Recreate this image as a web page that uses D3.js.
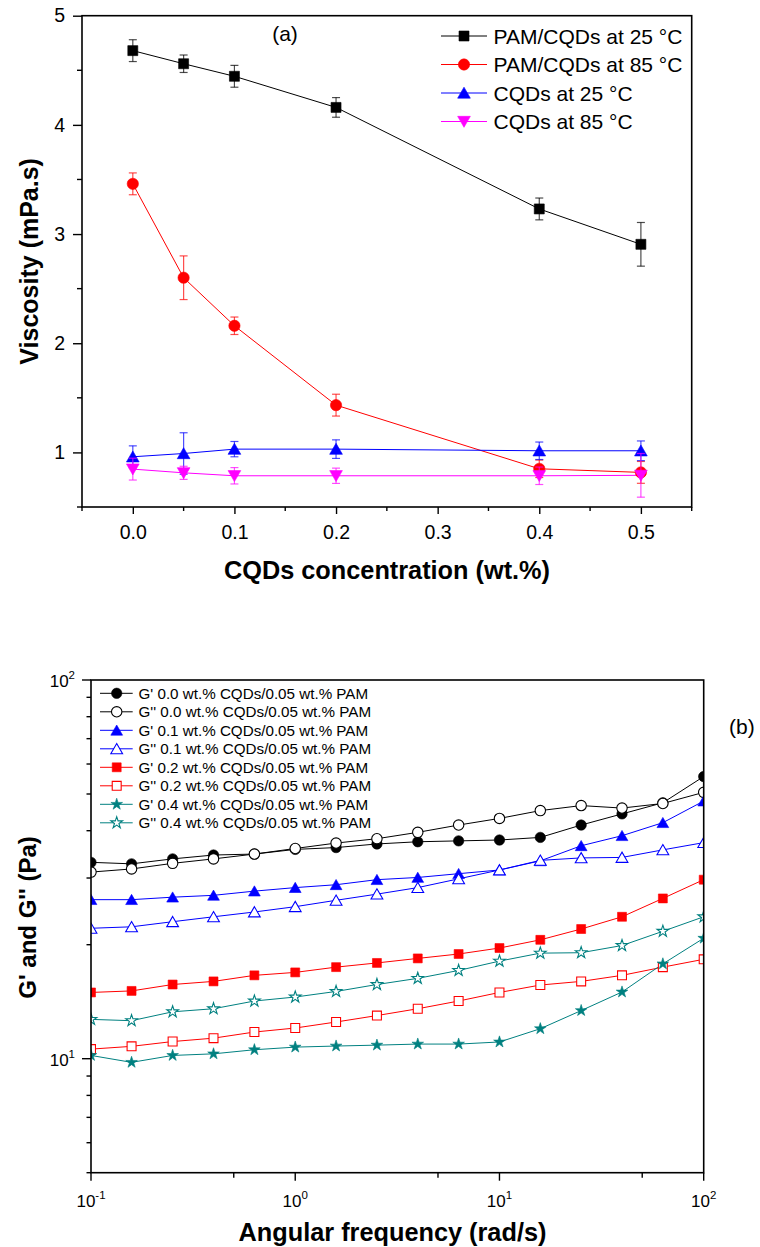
<!DOCTYPE html>
<html>
<head>
<meta charset="utf-8">
<script src="https://cdn.jsdelivr.net/npm/d3@7"></script>
<style>
  body { margin: 0; background: #fff; }
  svg { display: block; }
  text { font-family: "Liberation Sans", Arial, sans-serif; }
</style>
</head>
<body>
<svg id="chart" width="760" height="1247"></svg>
<script>
// ---------- Panel (a) data ----------
const concX = [0, 0.05, 0.1, 0.2, 0.4, 0.5];
const pam25 = [4.68, 4.56, 4.445, 4.16, 3.23, 2.906];
const pam25Err = [0.1, 0.08, 0.1, 0.09, 0.1, 0.2];
const pam85 = [3.46, 2.6, 2.16, 1.433, 0.85, 0.817];
const pam85Err = [0.1, 0.2, 0.08, 0.1, 0.08, 0.1];
const cqd25 = [0.96, 0.99, 1.03, 1.03, 1.015, 1.015];
const cqd25Err = [0.1, 0.19, 0.07, 0.085, 0.08, 0.09];
const cqd85 = [0.847, 0.813, 0.786, 0.786, 0.786, 0.79];
const cqd85Err = [0.1, 0.06, 0.075, 0.07, 0.08, 0.2];
const aNames = ["PAM/CQDs at 25 °C", "PAM/CQDs at 85 °C", "CQDs at 25 °C", "CQDs at 85 °C"];
const aXTicks = [0, 0.1, 0.2, 0.3, 0.4, 0.5];
const aYTicks = [1, 2, 3, 4, 5];

// ---------- Panel (b) data ----------
const freq = [0.1, 0.158, 0.251, 0.398, 0.631, 1, 1.585, 2.512, 3.981, 6.31, 10, 15.85, 25.12, 39.81, 63.1, 100];
const gp00 = [33.0, 32.7, 33.7, 34.5, 34.7, 35.7, 36.1, 36.9, 37.4, 37.6, 37.8, 38.4, 41.4, 44.3, 47.4, 55.6];
const gpp00 = [31.1, 31.7, 32.8, 33.7, 34.7, 35.9, 37.1, 38.1, 39.6, 41.4, 43.1, 45.2, 46.6, 45.9, 47.2, 50.5];
const gp01 = [26.3, 26.3, 26.7, 27.0, 27.7, 28.3, 28.8, 29.7, 30.1, 30.8, 31.5, 33.3, 36.5, 38.8, 42.0, 47.9];
const gpp01 = [22.1, 22.3, 23.0, 23.7, 24.4, 25.2, 26.2, 27.2, 28.3, 29.85, 31.5, 33.4, 33.9, 34.0, 35.6, 37.2];
const gp02 = [14.96, 15.1, 15.7, 16.0, 16.6, 16.9, 17.45, 17.9, 18.4, 18.9, 19.6, 20.6, 22.0, 23.7, 26.5, 29.7];
const gpp02 = [10.6, 10.78, 11.1, 11.33, 11.76, 12.05, 12.5, 13.0, 13.55, 14.2, 14.96, 15.65, 16.0, 16.6, 17.45, 18.3];
const gp04 = [10.2, 9.78, 10.2, 10.3, 10.56, 10.73, 10.8, 10.86, 10.93, 10.93, 11.07, 12.0, 13.4, 15.0, 17.8, 20.8];
const gpp04 = [12.7, 12.6, 13.3, 13.55, 14.2, 14.55, 15.05, 15.7, 16.3, 17.1, 18.1, 19.0, 19.05, 19.9, 21.7, 23.7];
const bNames = [
  "G' 0.0 wt.% CQDs/0.05 wt.% PAM", "G'' 0.0 wt.% CQDs/0.05 wt.% PAM",
  "G' 0.1 wt.% CQDs/0.05 wt.% PAM", "G'' 0.1 wt.% CQDs/0.05 wt.% PAM",
  "G' 0.2 wt.% CQDs/0.05 wt.% PAM", "G'' 0.2 wt.% CQDs/0.05 wt.% PAM",
  "G' 0.4 wt.% CQDs/0.05 wt.% PAM", "G'' 0.4 wt.% CQDs/0.05 wt.% PAM"
];
const bXTicks = [0.1, 1, 10, 100];
const bXExp = ["-1", "0", "1", "2"];
const bYTicks = [10, 100];
const bYExp = ["1", "2"];

const svg = d3.select("#chart");

function drawSymbol(g, type, size, x, y, color, filled, rotate) {
  g.append("path")
    .attr("d", d3.symbol().type(type).size(size)())
    .attr("transform", `translate(${x},${y})` + (rotate ? " rotate(180)" : ""))
    .attr("fill", filled ? color : "#fff")
    .attr("stroke", color)
    .attr("stroke-width", filled ? 0.6 : 1.1);
}

// ================= Panel (a) =================
(function () {
  const L = 82, R = 691.7, T = 15.7, B = 507;
  const x = d3.scaleLinear().domain([-0.05, 0.55]).range([L, R]);
  const y = d3.scaleLinear().domain([0.5, 5]).range([B, T]);
  const g = svg.append("g");

  const series = [
    { v: pam25, e: pam25Err, color: "#000000", sym: d3.symbolSquare, size: 100, rot: false },
    { v: pam85, e: pam85Err, color: "#ff0000", sym: d3.symbolCircle, size: 100, rot: false },
    { v: cqd25, e: cqd25Err, color: "#0000ff", sym: d3.symbolTriangle, size: 70, rot: false },
    { v: cqd85, e: cqd85Err, color: "#ff00ff", sym: d3.symbolTriangle, size: 70, rot: true }
  ];

  const line = d3.line().x((d, i) => x(concX[i])).y(d => y(d));
  series.forEach(s => {
    g.append("path").attr("d", line(s.v)).attr("fill", "none")
      .attr("stroke", s.color).attr("stroke-width", 1);
  });
  series.forEach(s => {
    const eg = g.append("g").attr("stroke", s.color).attr("stroke-opacity", 0.7).attr("stroke-width", 1.2);
    s.v.forEach((v, i) => {
      const cx = x(concX[i]), y1 = y(v + s.e[i]), y2 = y(v - s.e[i]);
      eg.append("line").attr("x1", cx).attr("x2", cx).attr("y1", y1).attr("y2", y2);
      eg.append("line").attr("x1", cx - 4).attr("x2", cx + 4).attr("y1", y1).attr("y2", y1);
      eg.append("line").attr("x1", cx - 4).attr("x2", cx + 4).attr("y1", y2).attr("y2", y2);
    });
    s.v.forEach((v, i) => {
      const dy = s.sym === d3.symbolTriangle ? (s.rot ? -1.5 : 1.5) : 0;
      drawSymbol(g, s.sym, s.size, x(concX[i]), y(v) + dy, s.color, true, s.rot);
    });
  });

  // frame
  g.append("rect").attr("x", L).attr("y", T).attr("width", R - L).attr("height", B - T)
    .attr("fill", "none").attr("stroke", "#000").attr("stroke-width", 1.6);

  // x axis ticks
  const minorX = d3.range(-0.05, 0.56, 0.1);
  minorX.forEach(t => g.append("line").attr("x1", x(t)).attr("x2", x(t)).attr("y1", B).attr("y2", B + 4)
    .attr("stroke", "#000").attr("stroke-width", 1.4));
  const ax = d3.axisBottom(x).tickValues(aXTicks).tickFormat(d3.format(".1f")).tickSize(7).tickSizeOuter(0).tickPadding(11);
  const axg = g.append("g").attr("transform", `translate(0,${B})`).call(ax);
  axg.select(".domain").remove();
  axg.selectAll("line").attr("stroke-width", 1.4);
  axg.selectAll("text").attr("font-size", 19.5).attr("font-family", "Liberation Sans, Arial, sans-serif");

  // y axis
  const minorY = d3.range(0.5, 5, 1);
  minorY.forEach(t => g.append("line").attr("x1", L - 5).attr("x2", L).attr("y1", y(t)).attr("y2", y(t))
    .attr("stroke", "#000").attr("stroke-width", 1.4));
  const ay = d3.axisLeft(y).tickValues(aYTicks).tickFormat(d3.format("d")).tickSize(9).tickSizeOuter(0).tickPadding(8);
  const ayg = g.append("g").attr("transform", `translate(${L},0)`).call(ay);
  ayg.select(".domain").remove();
  ayg.selectAll("line").attr("stroke-width", 1.4);
  ayg.selectAll("text").attr("font-size", 19.5).attr("font-family", "Liberation Sans, Arial, sans-serif");

  // titles
  g.append("text").attr("x", 387).attr("y", 579).attr("text-anchor", "middle")
    .attr("font-size", 25.3).attr("font-weight", "bold").text("CQDs concentration (wt.%)");
  g.append("text").attr("transform", `translate(37.5,${(T + B) / 2}) rotate(-90)`).attr("text-anchor", "middle")
    .attr("font-size", 25).attr("font-weight", "bold").text("Viscosity (mPa.s)");
  g.append("text").attr("x", 285).attr("y", 41).attr("text-anchor", "middle").attr("font-size", 21).text("(a)");

  // legend
  series.forEach((s, i) => {
    const cy = 36 + i * 28.5;
    g.append("line").attr("x1", 441).attr("x2", 487).attr("y1", cy).attr("y2", cy)
      .attr("stroke", s.color).attr("stroke-width", 1);
    const dy = s.sym === d3.symbolTriangle ? (s.rot ? -1.5 : 1.5) : 0;
    drawSymbol(g, s.sym, s.size, 464, cy + dy, s.color, true, s.rot);
    g.append("text").attr("x", 493.5).attr("y", cy + 7.5).attr("font-size", 21).text(aNames[i]);
  });
})();

// ================= Panel (b) =================
(function () {
  const L = 91, R = 703.7, T = 680, B = 1172.7;
  const x = d3.scaleLog().domain([0.1, 100]).range([L, R]);
  const y = d3.scaleLog().domain([5, 100]).range([B, T]);
  const g = svg.append("g");

  svg.append("defs").append("clipPath").attr("id", "clipB")
    .append("rect").attr("x", L).attr("y", T).attr("width", R - L).attr("height", B - T);

  const series = [
    { v: gp00, color: "#000000", sym: d3.symbolCircle, size: 85, filled: true },
    { v: gpp00, color: "#000000", sym: d3.symbolCircle, size: 85, filled: false },
    { v: gp01, color: "#0000ff", sym: d3.symbolTriangle, size: 60, filled: true },
    { v: gpp01, color: "#0000ff", sym: d3.symbolTriangle, size: 60, filled: false },
    { v: gp02, color: "#ff0000", sym: d3.symbolSquare, size: 80, filled: true },
    { v: gpp02, color: "#ff0000", sym: d3.symbolSquare, size: 80, filled: false },
    { v: gp04, color: "#008080", sym: d3.symbolStar, size: 42, filled: true },
    { v: gpp04, color: "#008080", sym: d3.symbolStar, size: 42, filled: false }
  ];

  const pg = g.append("g").attr("clip-path", "url(#clipB)");
  const line = d3.line().x((d, i) => x(freq[i])).y(d => y(d));
  series.forEach(s => {
    pg.append("path").attr("d", line(s.v)).attr("fill", "none")
      .attr("stroke", s.color).attr("stroke-width", 1);
  });
  series.forEach(s => {
    s.v.forEach((v, i) => {
      const dy = s.sym === d3.symbolTriangle ? 1.5 : 0;
      drawSymbol(pg, s.sym, s.size, x(freq[i]), y(v) + dy, s.color, s.filled, false);
    });
  });

  g.append("rect").attr("x", L).attr("y", T).attr("width", R - L).attr("height", B - T)
    .attr("fill", "none").attr("stroke", "#000").attr("stroke-width", 1.6);

  // x ticks
  const minorX = [0.5, 5, 50];
  minorX.forEach(t => g.append("line").attr("x1", x(t)).attr("x2", x(t)).attr("y1", B).attr("y2", B + 5)
    .attr("stroke", "#000").attr("stroke-width", 1.4));
  bXTicks.forEach((t, i) => {
    g.append("line").attr("x1", x(t)).attr("x2", x(t)).attr("y1", B).attr("y2", B + 8)
      .attr("stroke", "#000").attr("stroke-width", 1.4);
    const tx = g.append("text").attr("x", x(t)).attr("y", 1207).attr("text-anchor", "middle").attr("font-size", 17);
    tx.append("tspan").text("10");
    tx.append("tspan").attr("dy", -8).attr("font-size", 11.5).text(bXExp[i]);
  });

  // y ticks
  const minorY = [6, 7, 8, 9, 20, 30, 40, 50, 60, 70, 80, 90];
  minorY.forEach(t => g.append("line").attr("x1", L - 4.5).attr("x2", L).attr("y1", y(t)).attr("y2", y(t))
    .attr("stroke", "#000").attr("stroke-width", 1.4));
  g.append("line").attr("x1", L - 4.5).attr("x2", L).attr("y1", B).attr("y2", B)
    .attr("stroke", "#000").attr("stroke-width", 1.4);
  bYTicks.forEach((t, i) => {
    g.append("line").attr("x1", L - 9).attr("x2", L).attr("y1", y(t)).attr("y2", y(t))
      .attr("stroke", "#000").attr("stroke-width", 1.4);
    const tx = g.append("text").attr("x", 75).attr("y", y(t) + 7).attr("text-anchor", "end").attr("font-size", 17);
    tx.append("tspan").text("10");
    tx.append("tspan").attr("dy", -8).attr("font-size", 11.5).text(bYExp[i]);
  });

  // titles
  g.append("text").attr("x", 392.5).attr("y", 1241).attr("text-anchor", "middle")
    .attr("font-size", 25.3).attr("font-weight", "bold").text("Angular frequency (rad/s)");
  g.append("text").attr("transform", `translate(35.5,917.5) rotate(-90)`).attr("text-anchor", "middle")
    .attr("font-size", 24).attr("font-weight", "bold").text("G' and G'' (Pa)");
  g.append("text").attr("x", 729).attr("y", 734).attr("font-size", 21)
    .attr("font-family", "Open Sans, sans-serif").text("(b)");

  // legend
  series.forEach((s, i) => {
    const cy = 693.3 + i * 18.5;
    g.append("line").attr("x1", 100).attr("x2", 132.7).attr("y1", cy).attr("y2", cy)
      .attr("stroke", s.color).attr("stroke-width", 1);
    const dy = s.sym === d3.symbolTriangle ? 1.5 : 0;
    drawSymbol(g, s.sym, s.size, 116.7, cy + dy, s.color, s.filled, false);
    g.append("text").attr("x", 138.5).attr("y", cy + 5.3).attr("font-size", 15.2).text(bNames[i]);
  });
})();
</script>
</body>
</html>
